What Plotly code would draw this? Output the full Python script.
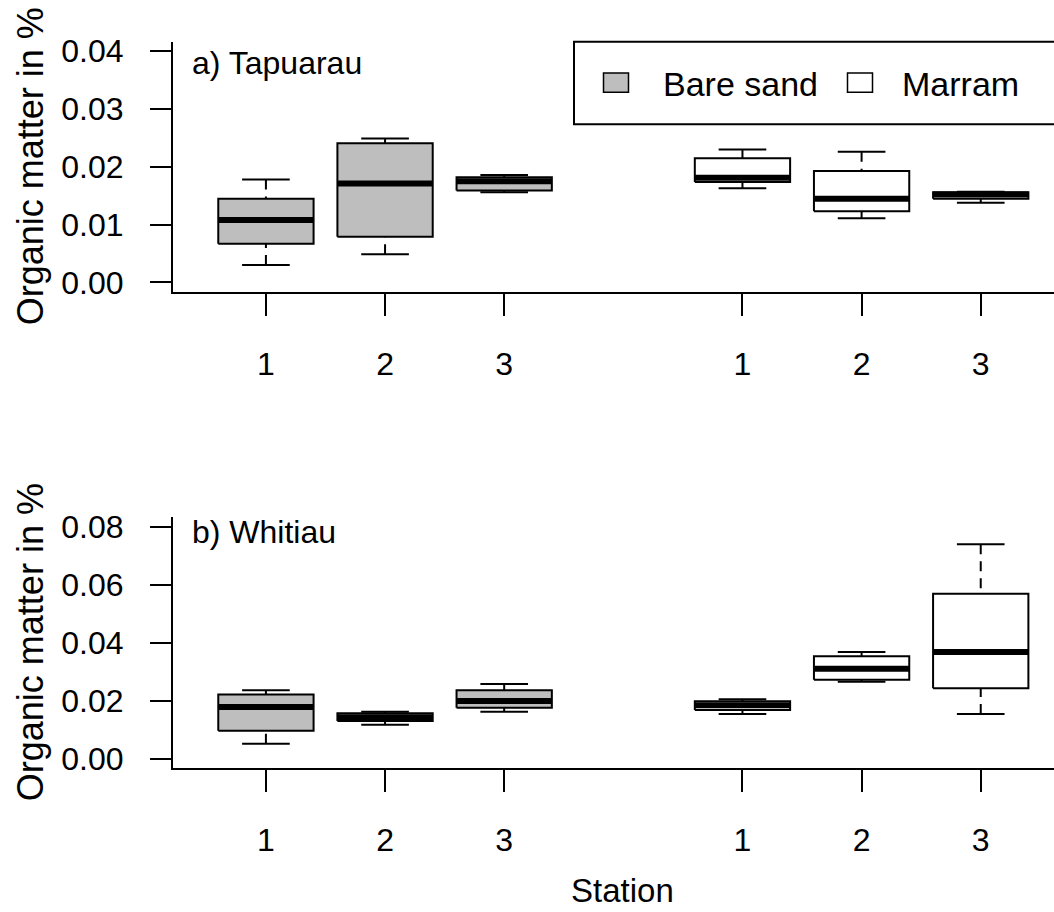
import plotly.graph_objects as go

# ---------------- data ----------------
stations = ["1", "2", "3"]
groups = ["Bare sand", "Marram"]
group_fill = ["#BEBEBE", "#FFFFFF"]
positions = [1, 2, 3, 5, 6, 7]          # bare sand 1-3, gap, marram 1-3
panel_titles = ["a) Tapuarau", "b) Whitiau"]

# five-number summaries per box (lower whisker, Q1, median, Q3, upper whisker)
tap_low  = [0.0030, 0.0049, 0.0156, 0.0163, 0.0111, 0.0138]
tap_q1   = [0.0067, 0.0079, 0.0159, 0.0174, 0.0123, 0.0145]
tap_med  = [0.0108, 0.0171, 0.0175, 0.0181, 0.0145, 0.0152]
tap_q3   = [0.0145, 0.0241, 0.0182, 0.0215, 0.0193, 0.0156]
tap_high = [0.0178, 0.0249, 0.0186, 0.0230, 0.0226, 0.0157]

whi_low  = [0.0052, 0.0117, 0.0162, 0.0154, 0.0265, 0.0154]
whi_q1   = [0.0096, 0.0130, 0.0176, 0.0168, 0.0272, 0.0243]
whi_med  = [0.0178, 0.0143, 0.0199, 0.0184, 0.0310, 0.0368]
whi_q3   = [0.0221, 0.0157, 0.0236, 0.0198, 0.0353, 0.0569]
whi_high = [0.0236, 0.0162, 0.0258, 0.0205, 0.0368, 0.0739]

tap_yticks = [0.00, 0.01, 0.02, 0.03, 0.04]
whi_yticks = [0.00, 0.02, 0.04, 0.06, 0.08]

# ---------------- layout helpers ----------------
W, H = 1054, 912
L, R, T, B = 173, 0, 42, 144
PW = W - L - R
PH = H - T - B
FONT = "Liberation Sans, Arial, Helvetica, sans-serif"


def px2x(px):
    return (px - L) / PW


def px2y(py):
    return (H - B - py) / PH


BOXW = 0.8
CAPW = 0.4

fig = go.Figure()


def add_panel(xa, ya, low, q1, med, q3, high):
    # boxes
    for g in range(len(groups)):
        xs, ys = [], []
        for i in range(3 * g, 3 * g + 3):
            p = positions[i]
            xs += [p - BOXW / 2, p + BOXW / 2, p + BOXW / 2, p - BOXW / 2, p - BOXW / 2, None]
            ys += [q1[i], q1[i], q3[i], q3[i], q1[i], None]
        fig.add_trace(go.Scatter(x=xs, y=ys, mode="lines", fill="toself",
                                 fillcolor=group_fill[g],
                                 line=dict(color="black", width=2),
                                 xaxis=xa, yaxis=ya, showlegend=False,
                                 hoverinfo="skip"))
    # whiskers (dashed, from fence toward box)
    wx, wy = [], []
    for i, p in enumerate(positions):
        wx += [p, p, None, p, p, None]
        wy += [low[i], q1[i], None, high[i], q3[i], None]
    fig.add_trace(go.Scatter(x=wx, y=wy, mode="lines",
                             line=dict(color="black", width=2, dash="10px,7px"),
                             xaxis=xa, yaxis=ya, showlegend=False, hoverinfo="skip"))
    # caps
    cx, cy = [], []
    for i, p in enumerate(positions):
        cx += [p - CAPW / 2, p + CAPW / 2, None, p - CAPW / 2, p + CAPW / 2, None]
        cy += [low[i], low[i], None, high[i], high[i], None]
    fig.add_trace(go.Scatter(x=cx, y=cy, mode="lines",
                             line=dict(color="black", width=2),
                             xaxis=xa, yaxis=ya, showlegend=False, hoverinfo="skip"))
    # medians
    mx, my = [], []
    for i, p in enumerate(positions):
        mx += [p - BOXW / 2, p + BOXW / 2, None]
        my += [med[i], med[i], None]
    fig.add_trace(go.Scatter(x=mx, y=my, mode="lines",
                             line=dict(color="black", width=6),
                             xaxis=xa, yaxis=ya, showlegend=False, hoverinfo="skip"))


add_panel("x", "y", tap_low, tap_q1, tap_med, tap_q3, tap_high)
add_panel("x2", "y2", whi_low, whi_q1, whi_med, whi_q3, whi_high)

xcommon = dict(range=[0.22, 7.615], tickmode="array", tickvals=positions,
               ticktext=stations * 2, ticks="outside", ticklen=22, tickwidth=2,
               tickcolor="black", showline=True, linewidth=2, linecolor="black",
               showgrid=False, zeroline=False, fixedrange=True,
               tickfont=dict(size=32, color="black", family=FONT),
               ticklabelstandoff=21)
ycommon = dict(ticks="outside", ticklen=21, tickwidth=2, tickcolor="black",
               showline=True, linewidth=2, linecolor="black", showgrid=False,
               zeroline=False, fixedrange=True,
               tickfont=dict(size=32, color="black", family=FONT),
               ticklabelstandoff=20)

top_dom = [px2y(291.7), 1.0]
bot_dom = [0.0, px2y(517.4)]

fig.update_layout(
    width=W, height=H,
    margin=dict(l=L, r=R, t=T, b=B, pad=0),
    paper_bgcolor="white", plot_bgcolor="white",
    font=dict(family=FONT, color="black"),
    showlegend=False,
    xaxis=dict(domain=[0, 1], anchor="y", **xcommon),
    xaxis2=dict(domain=[0, 1], anchor="y2", **xcommon),
    yaxis=dict(domain=top_dom, anchor="x", range=[-0.0016, 0.0416],
               tickmode="array", tickvals=tap_yticks,
               ticktext=[f"{v:.2f}" for v in tap_yticks], **ycommon),
    yaxis2=dict(domain=bot_dom, anchor="x2", range=[-0.0032, 0.0832],
                tickmode="array", tickvals=whi_yticks,
                ticktext=[f"{v:.2f}" for v in whi_yticks], **ycommon),
)

annotations = []
# y-axis titles
for yr in ["y domain", "y2 domain"]:
    annotations.append(dict(text="Organic matter in %", textangle=-90,
                            xref="paper", yref=yr, x=px2x(30.5), y=0.5,
                            xanchor="center", yanchor="middle", showarrow=False,
                            font=dict(size=36, color="black", family=FONT)))
# panel titles
annotations.append(dict(text=panel_titles[0], xref="x", yref="y", x=0.36, y=0.038,
                        xanchor="left", yanchor="middle", showarrow=False,
                        font=dict(size=32, color="black", family=FONT)))
annotations.append(dict(text=panel_titles[1], xref="x2", yref="y2", x=0.36, y=0.078,
                        xanchor="left", yanchor="middle", showarrow=False,
                        font=dict(size=32, color="black", family=FONT)))
# x title
annotations.append(dict(text="Station", xref="paper", yref="paper",
                        x=px2x(622), y=px2y(911), xanchor="center",
                        yanchor="bottom", showarrow=False,
                        font=dict(size=33, color="black", family=FONT)))

# legend (drawn manually, horizontal, top-right)
shapes = [dict(type="rect", xref="paper", yref="paper",
               x0=px2x(574), x1=px2x(1100), y0=px2y(124.3), y1=px2y(41.7),
               line=dict(color="black", width=2), fillcolor="white", layer="above")]
leg_swatch_px = [603.5, 847.5]
leg_text_px = [661, 900]
for g, name in enumerate(groups):
    shapes.append(dict(type="rect", xref="paper", yref="paper",
                       x0=px2x(leg_swatch_px[g]), x1=px2x(leg_swatch_px[g] + 25),
                       y0=px2y(92.3), y1=px2y(73.0),
                       line=dict(color="black", width=1.5),
                       fillcolor=group_fill[g], layer="above"))
    annotations.append(dict(text=name, xref="paper", yref="paper",
                            x=px2x(leg_text_px[g]), y=px2y(84.2),
                            xanchor="left", yanchor="middle", showarrow=False,
                            font=dict(size=34, color="black", family=FONT)))

fig.update_layout(annotations=annotations, shapes=shapes)

fig.write_html("out.html")
